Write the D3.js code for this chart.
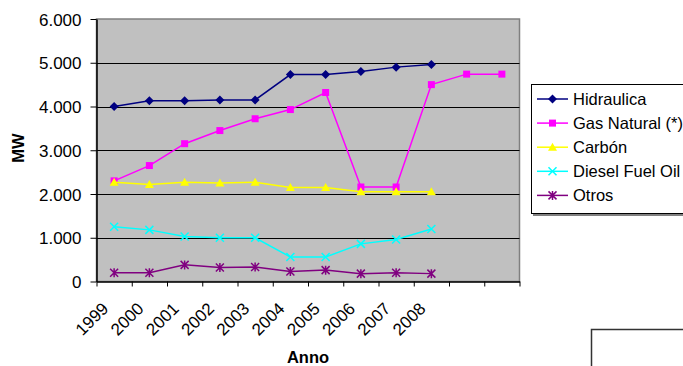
<!DOCTYPE html>
<html><head><meta charset="utf-8">
<script src="https://cdn.jsdelivr.net/npm/d3@7"></script>
<style>body{margin:0;background:#fff}svg{display:block}text{font-family:"Liberation Sans",Arial,sans-serif}</style>
</head><body>
<svg id="c" width="683" height="366"></svg>
<script>
const categories = ["1999","2000","2001","2002","2003","2004","2005","2006","2007","2008","",""];
const yTicks = [0,1000,2000,3000,4000,5000,6000];
const seriesNames = ["Hidraulica","Gas Natural (*)","Carbón","Diesel Fuel Oil","Otros"];
const hidraulica = [4000,4130,4130,4150,4150,4730,4730,4800,4900,4960];
const gasNatural = [2300,2650,3150,3450,3720,3930,4320,2160,2160,4500,4740,4740];
const carbon = [2270,2220,2270,2250,2270,2150,2150,2050,2050,2050];
const diesel = [1250,1180,1030,1000,1000,560,560,860,960,1200];
const otros = [200,200,380,320,330,230,260,180,200,180];

const seriesData = [hidraulica, gasNatural, carbon, diesel, otros];
const colors = ["#000080","#FF00FF","#FFFF00","#00FFFF","#800080"];
const markers = ["diamond","square","triangle","x","star"];

const svg = d3.select("#c");
const L = 96.5, R = 519.5, T = 19, B = 281.5;
const x = d3.scaleLinear().domain([0, categories.length]).range([L, R]);
const y = d3.scaleLinear().domain([0, 6000]).range([B, T]);

// plot background
svg.append("rect").attr("x", L).attr("y", T).attr("width", R - L).attr("height", B - T)
  .attr("fill", "#C0C0C0").attr("stroke", "#808080").attr("stroke-width", 1.5);

// gridlines
svg.append("g").selectAll("line").data(yTicks.filter(d => d > 0 && d < 6000)).join("line")
  .attr("x1", L).attr("x2", R).attr("y1", d => Math.round(y(d)) + 0.5).attr("y2", d => Math.round(y(d)) + 0.5)
  .attr("stroke", "#000").attr("stroke-width", 1);

// y axis
const fmt = d => d === 0 ? "0" : d3.format(",.0f")(d).replace(",", ".") ;
const yAxis = svg.append("g").attr("transform", `translate(${L},0)`)
  .call(d3.axisLeft(y).tickValues(yTicks).tickFormat(fmt).tickSize(6).tickSizeOuter(0));
yAxis.select(".domain").attr("stroke", "#000").attr("stroke-width", 1.5);
yAxis.selectAll(".tick line").attr("stroke", "#000");
yAxis.selectAll(".tick text").attr("font-size", 17).attr("fill", "#000").attr("x", -15).attr("dy", "0.36em");

// x axis
const xAxis = svg.append("g").attr("transform", `translate(0,${B})`)
  .call(d3.axisBottom(x).tickValues(d3.range(0, categories.length + 1)).tickFormat("").tickSize(5).tickSizeOuter(0));
xAxis.select(".domain").attr("stroke", "#000").attr("stroke-width", 1.5);
xAxis.selectAll(".tick line").attr("stroke", "#000");

svg.append("g").selectAll("text").data(categories.map((c, i) => ({c, i})).filter(d => d.c)).join("text")
  .attr("transform", d => `translate(${x(d.i + 0.5) - 9},${B + 24}) rotate(-45)`)
  .attr("text-anchor", "end").attr("font-size", 17).attr("fill", "#000")
  .attr("dy", "0.35em").text(d => d.c);

// axis titles
svg.append("text").attr("transform", "translate(24,148) rotate(-90)").attr("text-anchor", "middle")
  .attr("font-size", 16.5).attr("font-weight", "bold").text("MW");
svg.append("text").attr("x", 308).attr("y", 363).attr("text-anchor", "middle")
  .attr("font-size", 16.5).attr("font-weight", "bold").text("Anno");

function marker(g, type, cx, cy, color) {
  if (type === "diamond") {
    g.append("path").attr("d", `M${cx},${cy-4.5}L${cx+4.5},${cy}L${cx},${cy+4.5}L${cx-4.5},${cy}Z`).attr("fill", color);
  } else if (type === "square") {
    g.append("rect").attr("x", cx-3.5).attr("y", cy-3.5).attr("width", 7).attr("height", 7).attr("fill", color);
  } else if (type === "triangle") {
    g.append("path").attr("d", `M${cx},${cy-4.5}L${cx+4.5},${cy+3.5}L${cx-4.5},${cy+3.5}Z`).attr("fill", color);
  } else if (type === "x") {
    g.append("path").attr("d", `M${cx-4},${cy-4}L${cx+4},${cy+4}M${cx-4},${cy+4}L${cx+4},${cy-4}`).attr("stroke", color).attr("stroke-width", 1.5);
  } else {
    g.append("path").attr("d", `M${cx-4},${cy-4}L${cx+4},${cy+4}M${cx-4},${cy+4}L${cx+4},${cy-4}M${cx},${cy-4.5}L${cx},${cy+4.5}`).attr("stroke", color).attr("stroke-width", 1.5);
  }
}

const line = d3.line().x((d, i) => x(i + 0.5)).y(d => y(d));
seriesData.forEach((vals, k) => {
  const g = svg.append("g");
  g.append("path").attr("d", line(vals)).attr("fill", "none").attr("stroke", colors[k]).attr("stroke-width", 1.5);
  vals.forEach((v, i) => marker(g, markers[k], x(i + 0.5), y(v), colors[k]));
});

// legend
svg.append("rect").attr("x", 533).attr("y", 86).attr("width", 200).attr("height", 130).attr("fill", "#808080");
svg.append("rect").attr("x", 531.5).attr("y", 84.5).attr("width", 200).attr("height", 129).attr("fill", "#fff").attr("stroke", "#000").attr("stroke-width", 1);
const lg = svg.append("g");
seriesNames.forEach((n, k) => {
  const yy = 99 + k * 24.1;
  lg.append("line").attr("x1", 537).attr("x2", 568).attr("y1", yy).attr("y2", yy).attr("stroke", colors[k]).attr("stroke-width", 1.5);
  marker(lg, markers[k], 552.5, yy, colors[k]);
  lg.append("text").attr("x", 573).attr("y", yy).attr("dy", "0.36em").attr("font-size", 16.5).text(n);
});

// empty box bottom right
svg.append("path").attr("d", "M591.5,380V329.5H700").attr("fill", "none").attr("stroke", "#333").attr("stroke-width", 1.5);
</script>
</body></html>
